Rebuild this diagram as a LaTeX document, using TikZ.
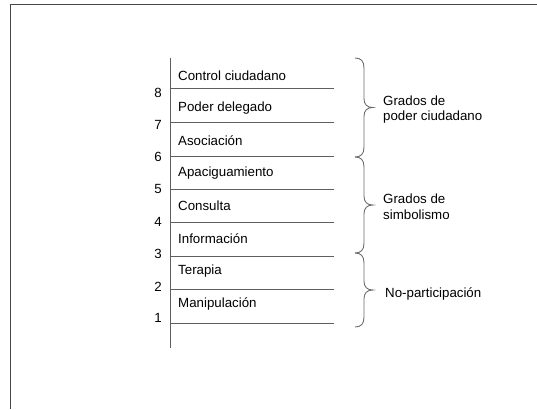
\documentclass[tikz,border=0pt]{standalone}
\usepackage{fontspec}
\setmainfont{Liberation Sans}
\begin{document}
\begin{tikzpicture}[x=1pt,y=-1pt,
  lbl/.style={anchor=west,inner sep=0pt,font=\fontsize{13.3}{15.5}\selectfont},
  num/.style={inner sep=0pt,font=\fontsize{13.3}{15.5}\selectfont},
  grp/.style={anchor=west,inner sep=0pt,align=left,font=\fontsize{13.3}{15.5}\selectfont},
  rung/.style={draw={rgb,255:red,95;green,95;blue,95},line width=1pt},
  bracestyle/.style={draw={rgb,255:red,110;green,110;blue,110},line width=0.9pt},
  frame/.style={draw={rgb,255:red,70;green,70;blue,70},line width=1.3pt}]
\useasboundingbox (0,0) rectangle (537,409);
\fill[white] (0,0) rectangle (537,409);
% frame
\coordinate (ftl) at (10.5,4.8);
\coordinate (ftr) at (537,4.8);
\coordinate (fbl) at (10.5,409);
\draw[frame] (ftr) -- (ftl) -- (fbl);
% axis
\coordinate (axtop) at (170,58);
\coordinate (axbot) at (170,348);
\draw[rung] (axtop) -- (axbot);
% rungs
\foreach \i/\y in {8/89,7/122.5,6/156,5/189.5,4/222.5,3/256,2/289.5,1/323}{
  \coordinate (l\i) at (170,\y);
  \coordinate (r\i) at (334,\y);
  \draw[rung] (l\i) -- (r\i);
}
% numbers
\node[num] (n8) at (158,93) {8};
\node[num] (n7) at (158,124.5) {7};
\node[num] (n6) at (158,157) {6};
\node[num] (n5) at (158,189) {5};
\node[num] (n4) at (158,222) {4};
\node[num] (n3) at (158,254) {3};
\node[num] (n2) at (158,287) {2};
\node[num] (n1) at (158,318) {1};
% labels
\node[lbl] (t8) at (178,76) {Control ciudadano};
\node[lbl] (t7) at (178,108) {Poder delegado};
\node[lbl] (t6) at (178,141) {Asociación};
\node[lbl] (t5) at (178,173.5) {Apaciguamiento};
\node[lbl] (t4) at (178,205.5) {Consulta};
\node[lbl] (t3) at (178,238.5) {Información};
\node[lbl] (t2) at (178,271) {Terapia};
\node[lbl] (t1) at (178,303.5) {Manipulación};
% braces
\foreach \yt/\yb in {58/157,157/253,253/327}{
  \pgfmathsetmacro{\ym}{(\yt+\yb)/2}
  \draw[bracestyle] (355,\yt) .. controls (361,\yt) and (364,\yt+3) .. (364,\yt+10)
     -- (364,\ym-9) .. controls (364,\ym-3) and (367,\ym) .. (373,\ym)
     .. controls (367,\ym) and (364,\ym+3) .. (364,\ym+9)
     -- (364,\yb-10) .. controls (364,\yb-3) and (361,\yb) .. (355,\yb);
}
% group labels
\node[grp] (g1) at (383,109.5) {Grados de\\poder ciudadano};
\node[grp] (g2) at (383,206.5) {Grados de\\simbolismo};
\node[grp] (g3) at (385,293.5) {No-participación};
\end{tikzpicture}
\end{document}
